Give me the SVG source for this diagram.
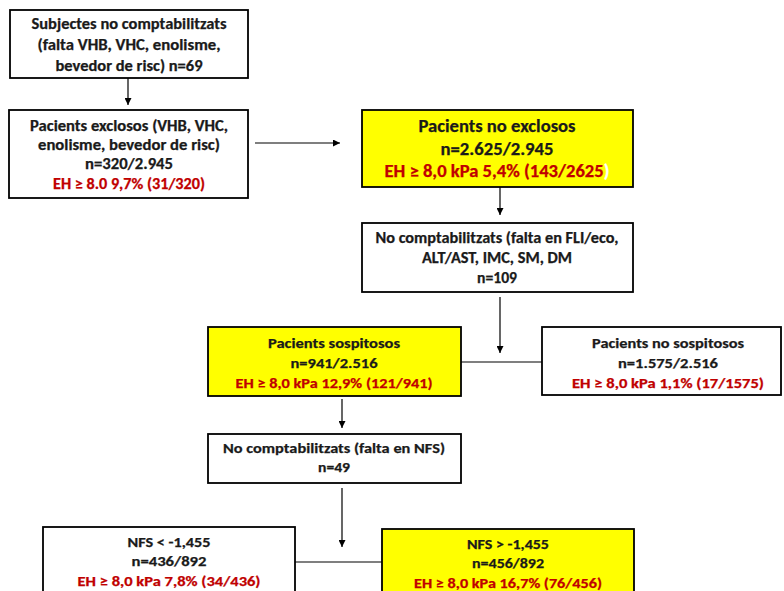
<svg xmlns="http://www.w3.org/2000/svg" width="784" height="591" viewBox="0 0 784 591">
  <style>
    .box { fill: #ffffff; stroke: #000000; stroke-width: 1.8; }
    .hl { fill: #ffff00; }
    .t { font-family: Carlito, "Open Sans", "Liberation Sans", sans-serif; font-weight: bold; text-anchor: middle; fill: #1a1a1a; stroke: #1a1a1a; stroke-width: 0.25; }
    .f14 { font-size: 15px; }
    .f16 { font-size: 17px; }
    .f13 { font-size: 14px; }
    .red { fill: #c00000; stroke: #c00000; }
    .ln { stroke: #000000; stroke-width: 1.2; fill: none; }
  </style>
  <defs>
    <marker id="arr" viewBox="0 0 8 8" refX="8" refY="4" markerWidth="7" markerHeight="7" markerUnits="userSpaceOnUse" orient="auto">
      <path d="M0,0 L8,4 L0,8 Z" fill="#000000"/>
    </marker>
  </defs>

  <!-- connectors -->
  <g id="connectors">
    <line class="ln" x1="128" y1="78" x2="128" y2="105" marker-end="url(#arr)"/>
    <line class="ln" x1="255" y1="143" x2="340" y2="143" marker-end="url(#arr)"/>
    <line class="ln" x1="500" y1="187" x2="500" y2="215" marker-end="url(#arr)"/>
    <line class="ln" x1="500" y1="297" x2="500" y2="353" marker-end="url(#arr)"/>
    <line class="ln" x1="461" y1="362" x2="542" y2="362"/>
    <line class="ln" x1="342" y1="399" x2="342" y2="428" marker-end="url(#arr)"/>
    <line class="ln" x1="342" y1="488" x2="342" y2="547" marker-end="url(#arr)"/>
    <line class="ln" x1="295" y1="562" x2="382" y2="562"/>
  </g>

  <g id="subjectes-no-comptabilitzats">
    <rect class="box" x="10" y="10" width="238" height="68"/>
    <text class="t f14" x="129" y="29" textLength="195" lengthAdjust="spacingAndGlyphs">Subjectes no comptabilitzats</text>
    <text class="t f14" x="129" y="50" textLength="183" lengthAdjust="spacingAndGlyphs">(falta VHB, VHC, enolisme,</text>
    <text class="t f14" x="129" y="71" textLength="147" lengthAdjust="spacingAndGlyphs">bevedor de risc) n=69</text>
  </g>

  <g id="pacients-exclosos">
    <rect class="box" x="9" y="110" width="239" height="88"/>
    <text class="t f14" x="129" y="131" textLength="198" lengthAdjust="spacingAndGlyphs">Pacients exclosos (VHB, VHC,</text>
    <text class="t f14" x="129" y="150" textLength="182" lengthAdjust="spacingAndGlyphs">enolisme, bevedor de risc)</text>
    <text class="t f14" x="129" y="169" textLength="88" lengthAdjust="spacingAndGlyphs">n=320/2.945</text>
    <text class="t f14 red" x="129" y="189" textLength="152" lengthAdjust="spacingAndGlyphs">EH ≥ 8.0 9,7% (31/320)</text>
  </g>

  <g id="pacients-no-exclosos">
    <rect class="box hl" x="362" y="110" width="271" height="77"/>
    <text class="t f16" x="497" y="132" textLength="157" lengthAdjust="spacingAndGlyphs">Pacients no exclosos</text>
    <text class="t f16" x="497" y="155" textLength="113" lengthAdjust="spacingAndGlyphs">n=2.625/2.945</text>
    <text class="t f16 red" x="497" y="177" textLength="225" lengthAdjust="spacingAndGlyphs">EH ≥ 8,0 kPa 5,4% (143/2625<tspan fill="#ffffff" stroke="#ffffff">)</tspan></text>
  </g>

  <g id="no-comptabilitzats-fli">
    <rect class="box" x="362" y="223" width="271" height="69"/>
    <text class="t f14" x="497" y="243" textLength="243" lengthAdjust="spacingAndGlyphs">No comptabilitzats (falta en FLI/eco,</text>
    <text class="t f14" x="497" y="263" textLength="150" lengthAdjust="spacingAndGlyphs">ALT/AST, IMC, SM, DM</text>
    <text class="t f14" x="497" y="283" textLength="40" lengthAdjust="spacingAndGlyphs">n=109</text>
  </g>

  <g id="pacients-sospitosos">
    <rect class="box hl" x="208" y="327" width="253" height="69"/>
    <text class="t f13" x="334" y="348" textLength="132" lengthAdjust="spacingAndGlyphs">Pacients sospitosos</text>
    <text class="t f13" x="334" y="368" textLength="87" lengthAdjust="spacingAndGlyphs">n=941/2.516</text>
    <text class="t f13 red" x="334" y="388" textLength="197" lengthAdjust="spacingAndGlyphs">EH ≥ 8,0 kPa 12,9% (121/941)</text>
  </g>

  <g id="pacients-no-sospitosos">
    <rect class="box" x="542" y="327" width="239" height="68"/>
    <text class="t f13" x="668" y="348" textLength="152" lengthAdjust="spacingAndGlyphs">Pacients no sospitosos</text>
    <text class="t f13" x="668" y="368" textLength="100" lengthAdjust="spacingAndGlyphs">n=1.575/2.516</text>
    <text class="t f13 red" x="668" y="388" textLength="192" lengthAdjust="spacingAndGlyphs">EH ≥ 8,0 kPa 1,1% (17/1575)</text>
  </g>

  <g id="no-comptabilitzats-nfs">
    <rect class="box" x="208" y="434" width="253" height="49"/>
    <text class="t f13" x="334" y="453" textLength="222" lengthAdjust="spacingAndGlyphs">No comptabilitzats (falta en NFS)</text>
    <text class="t f13" x="334" y="472" textLength="32" lengthAdjust="spacingAndGlyphs">n=49</text>
  </g>

  <g id="nfs-baix">
    <rect class="box" x="43" y="527" width="252" height="70"/>
    <text class="t f13" x="169" y="547" textLength="83" lengthAdjust="spacingAndGlyphs">NFS &lt; -1,455</text>
    <text class="t f13" x="169" y="566" textLength="75" lengthAdjust="spacingAndGlyphs">n=436/892</text>
    <text class="t f13 red" x="169" y="586" textLength="183" lengthAdjust="spacingAndGlyphs">EH ≥ 8,0 kPa 7,8% (34/436)</text>
  </g>

  <g id="nfs-alt">
    <rect class="box hl" x="382" y="529" width="252" height="70"/>
    <text class="t f13" x="508" y="549" textLength="82" lengthAdjust="spacingAndGlyphs">NFS &gt; -1,455</text>
    <text class="t f13" x="508" y="568" textLength="72" lengthAdjust="spacingAndGlyphs">n=456/892</text>
    <text class="t f13 red" x="508" y="588" textLength="188" lengthAdjust="spacingAndGlyphs">EH ≥ 8,0 kPa 16,7% (76/456)</text>
  </g>
</svg>
